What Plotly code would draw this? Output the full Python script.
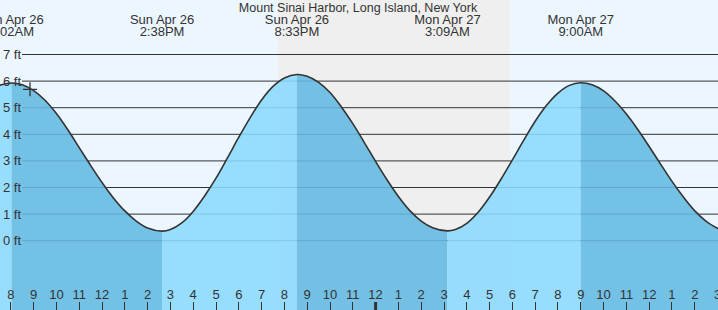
import plotly.graph_objects as go

# ---------------- data ----------------
TITLE = "Mount Sinai Harbor, Long Island, New York"

# tide curve: hours since Sun Apr 26 00:00, height in ft (read about every half hour)
tide_hours = [7.5, 8.033, 8.5, 9.0, 9.5, 10.0, 10.5, 11.0, 11.5, 12.0, 12.5, 13.0, 13.5, 14.0, 14.633,
              15.0, 15.5, 16.0, 16.5, 17.0, 17.5, 18.0, 18.5, 19.0, 19.5, 20.0, 20.55,
              21.0, 21.5, 22.0, 22.5, 23.0, 23.5, 24.0, 24.5, 25.0, 25.5, 26.0, 26.5, 27.15,
              27.5, 28.0, 28.5, 29.0, 29.5, 30.0, 30.5, 31.0, 31.5, 32.0, 32.5, 33.0,
              33.5, 34.0, 34.5, 35.0, 35.5, 36.0, 36.5, 37.0, 37.5, 38.0, 38.5, 39.05]
tide_ft = [5.84, 5.93, 5.86, 5.64, 5.28, 4.78, 4.17, 3.50, 2.83, 2.19, 1.61, 1.12, 0.74, 0.48, 0.36,
           0.42, 0.67, 1.10, 1.68, 2.35, 3.11, 3.89, 4.63, 5.29, 5.80, 6.12, 6.25,
           6.18, 5.95, 5.57, 5.03, 4.40, 3.70, 2.98, 2.29, 1.66, 1.13, 0.74, 0.49, 0.37,
           0.42, 0.655, 1.07, 1.64, 2.31, 3.04, 3.78, 4.49, 5.09, 5.55, 5.84, 5.94,
           5.86, 5.63, 5.25, 4.76, 4.18, 3.54, 2.88, 2.23, 1.64, 1.12, 0.73, 0.44]

# high / low tide events
event_hours = [8.033, 14.633, 20.55, 27.15, 33.0, 39.48]
event_day = ["Sun Apr 26", "Sun Apr 26", "Sun Apr 26", "Mon Apr 27", "Mon Apr 27", "Mon Apr 27"]
event_time = ["8:02AM", "2:38PM", "8:33PM", "3:09AM", "9:00AM", "3:29PM"]

# night (sunset -> sunrise)
night_start = 19.72
night_end = 29.89

# current time marker
now_hour = 8.842
now_ft = 5.69

# axes
y_levels = [0, 1, 2, 3, 4, 5, 6, 7]
y_labels = ["0 ft", "1 ft", "2 ft", "3 ft", "4 ft", "5 ft", "6 ft", "7 ft"]
hour_ticks = list(range(8, 40))
hour_text = ["8", "9", "10", "11", "12", "1", "2", "3", "4", "5", "6", "7", "8", "9", "10", "11",
             "12", "1", "2", "3", "4", "5", "6", "7", "8", "9", "10", "11", "12", "1", "2", "3"]
midnight = 24

# ---------------- style ----------------
W, H = 718, 310
X_RANGE = [7.526, 39.018]
Y_RANGE = [-2.605, 9.049]
FONT = "Liberation Sans, Arial, sans-serif"
TXT = "#333333"
BG = "#ecf6ff"
NIGHT = "#efefef"
RISE = "rgba(139,217,254,0.88)"
FALL = "rgba(99,186,227,0.88)"
BASE = Y_RANGE[0] - 1
SMOOTH = 1.0

def px_to_ft(py):
    # vertical pixel (from top) -> data value using the y range
    return Y_RANGE[1] - py / H * (Y_RANGE[1] - Y_RANGE[0])

fig = go.Figure()

# filled segments between consecutive extremes (rising = light, falling = dark)
bounds = [tide_hours[0]] + [h for h in event_hours if tide_hours[0] < h < tide_hours[-1]] + [tide_hours[-1]]
for a, b in zip(bounds[:-1], bounds[1:]):
    xs = [h for h in tide_hours if a <= h <= b]
    ys = [v for h, v in zip(tide_hours, tide_ft) if a <= h <= b]
    color = RISE if ys[-1] > ys[0] else FALL
    fig.add_trace(go.Scatter(x=[a, b], y=[BASE, BASE], mode="lines",
                             line=dict(width=0, color=color), hoverinfo="skip", showlegend=False))
    fig.add_trace(go.Scatter(x=xs, y=ys, mode="lines", fill="tonexty", fillcolor=color,
                             line=dict(width=0, shape="spline", smoothing=SMOOTH, color=color),
                             hoverinfo="skip", showlegend=False))

# tide line
fig.add_trace(go.Scatter(x=tide_hours, y=tide_ft, mode="lines",
                         line=dict(color="#333333", width=1.6, shape="spline", smoothing=SMOOTH),
                         hoverinfo="skip", showlegend=False))

# now marker
fig.add_trace(go.Scatter(x=[now_hour], y=[now_ft], mode="markers",
                         marker=dict(symbol="cross-thin", size=10,
                                     line=dict(color="#333333", width=1.3)),
                         hoverinfo="skip", showlegend=False))

# event labels (two lines)
fig.add_trace(go.Scatter(x=event_hours, y=[px_to_ft(20.5)] * len(event_hours), mode="text",
                         text=event_day, textposition="middle center",
                         textfont=dict(family=FONT, size=13, color=TXT),
                         cliponaxis=False, hoverinfo="skip", showlegend=False))
fig.add_trace(go.Scatter(x=event_hours, y=[px_to_ft(32.5)] * len(event_hours), mode="text",
                         text=event_time, textposition="middle center",
                         textfont=dict(family=FONT, size=13, color=TXT),
                         cliponaxis=False, hoverinfo="skip", showlegend=False))

# hour labels at bottom
fig.add_trace(go.Scatter(x=hour_ticks, y=[px_to_ft(295.5)] * len(hour_ticks), mode="text",
                         text=hour_text, textposition="middle center",
                         textfont=dict(family=FONT, size=13, color=TXT),
                         cliponaxis=False, hoverinfo="skip", showlegend=False))

shapes = [dict(type="rect", xref="x", yref="paper", x0=night_start, x1=night_end, y0=0, y1=1,
               fillcolor=NIGHT, line=dict(width=0), layer="below")]
for v in y_levels:
    shapes.append(dict(type="line", xref="paper", yref="y", x0=22 / W, x1=1, y0=v, y1=v,
                       line=dict(color="#333333", width=1), layer="below"))
shapes.append(dict(type="line", xref="x", yref="paper", x0=midnight, x1=midnight,
                   y0=0, y1=8 / H, line=dict(color="#333333", width=3), layer="above"))

annotations = [dict(xref="paper", yref="y", x=0, y=v, text=t, showarrow=False,
                    xanchor="left", yanchor="middle", xshift=1,
                    font=dict(family=FONT, size=13, color=TXT))
               for v, t in zip(y_levels, y_labels)]

fig.update_layout(
    width=W, height=H, margin=dict(l=0, r=0, t=0, b=0),
    paper_bgcolor=BG, plot_bgcolor=BG,
    title=dict(text=TITLE, x=358 / W, y=1 - 7.5 / H, xanchor="center", yanchor="middle",
               font=dict(family=FONT, size=12.5, color=TXT)),
    xaxis=dict(range=X_RANGE, showgrid=False, zeroline=False, showline=False,
               tickmode="array", tickvals=hour_ticks, showticklabels=False,
               ticks="inside", ticklen=8, tickwidth=1, tickcolor="#333333", fixedrange=True),
    yaxis=dict(range=Y_RANGE, showgrid=False, zeroline=False, showline=False,
               showticklabels=False, ticks="", fixedrange=True),
    shapes=shapes, annotations=annotations, showlegend=False,
)

fig.write_html("out.html")
